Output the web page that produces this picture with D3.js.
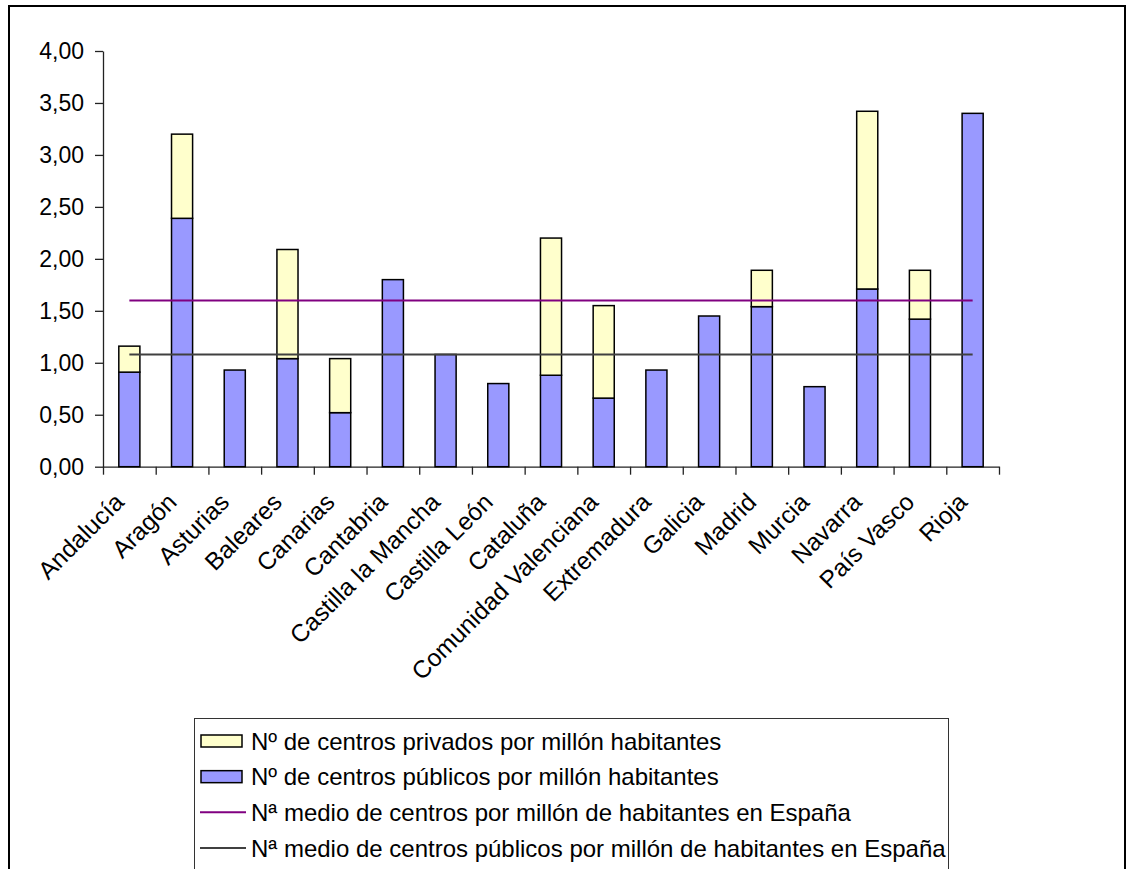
<!DOCTYPE html>
<html>
<head>
<meta charset="utf-8">
<script src="https://cdn.jsdelivr.net/npm/d3@7"></script>
<style>
  html, body { margin: 0; padding: 0; background: #fff; }
  svg { display: block; font-family: "Liberation Sans", Arial, sans-serif; }
</style>
</head>
<body>
<svg id="chart" width="1127" height="869"></svg>
<script>
// Comunidades autónomas
const comunidades = ["Andalucía", "Aragón", "Asturias", "Baleares", "Canarias", "Cantabria",
  "Castilla la Mancha", "Castilla León", "Cataluña", "Comunidad Valenciana", "Extremadura",
  "Galicia", "Madrid", "Murcia", "Navarra", "País Vasco", "Rioja"];

// Nº de centros públicos por millón de habitantes
const publicos = [0.91, 2.39, 0.93, 1.04, 0.52, 1.80, 1.08, 0.80, 0.88, 0.66, 0.93,
  1.45, 1.54, 0.77, 1.71, 1.42, 3.40];

// Nº de centros privados por millón de habitantes
const privados = [0.25, 0.81, 0, 1.05, 0.52, 0, 0, 0, 1.32, 0.89, 0,
  0, 0.35, 0, 1.71, 0.47, 0];

// Medias nacionales
const mediaTotal = 1.60;
const mediaPublicos = 1.08;

const yTicks = [0, 0.5, 1, 1.5, 2, 2.5, 3, 3.5, 4];

const legendItems = [
  { label: "Nº de centros privados por millón habitantes", type: "rect", fill: "#FFFFCC" },
  { label: "Nº de centros públicos por millón habitantes", type: "rect", fill: "#9999FF" },
  { label: "Nª medio de centros por millón de habitantes en España", type: "line", stroke: "#800080" },
  { label: "Nª medio de centros públicos por millón de habitantes en España", type: "line", stroke: "#404040" }
];

const svg = d3.select("#chart");

// Marco exterior
svg.append("rect")
  .attr("x", 9).attr("y", 6).attr("width", 1116).attr("height", 900)
  .attr("fill", "#fff").attr("stroke", "#000").attr("stroke-width", 2);

const plot = { left: 103, right: 999, top: 51, bottom: 466.7 };

const x = d3.scaleBand().domain(comunidades).range([plot.left, plot.right]).padding(0);
const xEdges = d3.scaleLinear().domain([0, comunidades.length]).range([plot.left, plot.right]);
const y = d3.scaleLinear().domain([0, 4]).range([plot.bottom, plot.top]);

const barW = x.bandwidth() / 2.5;
const fmt = d => d.toFixed(2).replace(".", ",");

// Eje Y
const yAxis = svg.append("g")
  .attr("transform", `translate(${plot.left},0)`)
  .call(d3.axisLeft(y).tickValues(yTicks).tickFormat(fmt).tickSize(8).tickSizeOuter(0).tickPadding(11));
yAxis.select(".domain").attr("stroke", "#222").attr("stroke-width", 1.3);
yAxis.selectAll(".tick line").attr("stroke", "#222").attr("stroke-width", 1.3);
yAxis.selectAll(".tick text")
  .attr("font-size", 23).attr("fill", "#000")
  .attr("font-family", "'Liberation Sans', Arial, sans-serif");

// Eje X (marcas entre categorías)
const xAxis = svg.append("g")
  .attr("transform", `translate(0,${plot.bottom})`)
  .call(d3.axisBottom(xEdges).tickValues(d3.range(comunidades.length + 1))
    .tickFormat("").tickSize(8).tickSizeOuter(0));
xAxis.select(".domain").attr("stroke", "#222").attr("stroke-width", 1.3);
xAxis.selectAll(".tick line").attr("stroke", "#222").attr("stroke-width", 1.3);

// Etiquetas de categorías giradas
svg.append("g").selectAll("text")
  .data(comunidades)
  .join("text")
  .attr("transform", d => `translate(${x(d) + x.bandwidth() / 2 - 4},${plot.bottom + 37}) rotate(-45)`)
  .attr("text-anchor", "end")
  .attr("font-size", 24.5)
  .attr("fill", "#000")
  .text(d => d);

// Barras apiladas: públicos abajo, privados encima
const bars = svg.append("g");
bars.selectAll("rect.pub")
  .data(comunidades)
  .join("rect")
  .attr("class", "pub")
  .attr("x", d => x(d) + (x.bandwidth() - barW) / 2)
  .attr("width", barW)
  .attr("y", (d, i) => y(publicos[i]))
  .attr("height", (d, i) => y(0) - y(publicos[i]))
  .attr("fill", "#9999FF").attr("stroke", "#000").attr("stroke-width", 1.5);

bars.selectAll("rect.priv")
  .data(comunidades.filter((d, i) => privados[i] > 0))
  .join("rect")
  .attr("class", "priv")
  .attr("x", d => x(d) + (x.bandwidth() - barW) / 2)
  .attr("width", barW)
  .attr("y", d => { const i = comunidades.indexOf(d); return y(publicos[i] + privados[i]); })
  .attr("height", d => { const i = comunidades.indexOf(d); return y(publicos[i]) - y(publicos[i] + privados[i]); })
  .attr("fill", "#FFFFCC").attr("stroke", "#000").attr("stroke-width", 1.5);

// Líneas de media nacional
const first = comunidades[0], last = comunidades[comunidades.length - 1];
const mediaLine = d3.line().x(d => d[0]).y(d => d[1]);
[[mediaTotal, "#800080"], [mediaPublicos, "#404040"]].forEach(([v, c]) => {
  svg.append("path")
    .attr("d", mediaLine([[x(first) + x.bandwidth() / 2, y(v)], [x(last) + x.bandwidth() / 2, y(v)]]))
    .attr("stroke", c).attr("stroke-width", 2).attr("fill", "none");
});

// Leyenda
const lg = svg.append("g");
lg.append("rect")
  .attr("x", 194.5).attr("y", 718.5).attr("width", 754).attr("height", 200)
  .attr("fill", "#fff").attr("stroke", "#333").attr("stroke-width", 1);

const rowY = d3.scaleLinear().domain([0, 3]).range([741, 848]);
legendItems.forEach((it, i) => {
  const cy = rowY(i);
  if (it.type === "rect") {
    lg.append("rect").attr("x", 201).attr("y", cy - 6).attr("width", 41).attr("height", 12)
      .attr("fill", it.fill).attr("stroke", "#000").attr("stroke-width", 1.5);
  } else {
    lg.append("line").attr("x1", 200).attr("x2", 246).attr("y1", cy).attr("y2", cy)
      .attr("stroke", it.stroke).attr("stroke-width", 2);
  }
  lg.append("text").attr("x", 251).attr("y", cy).attr("dy", "0.36em")
    .attr("font-size", 24).attr("fill", "#000").text(it.label);
});
</script>
</body>
</html>
